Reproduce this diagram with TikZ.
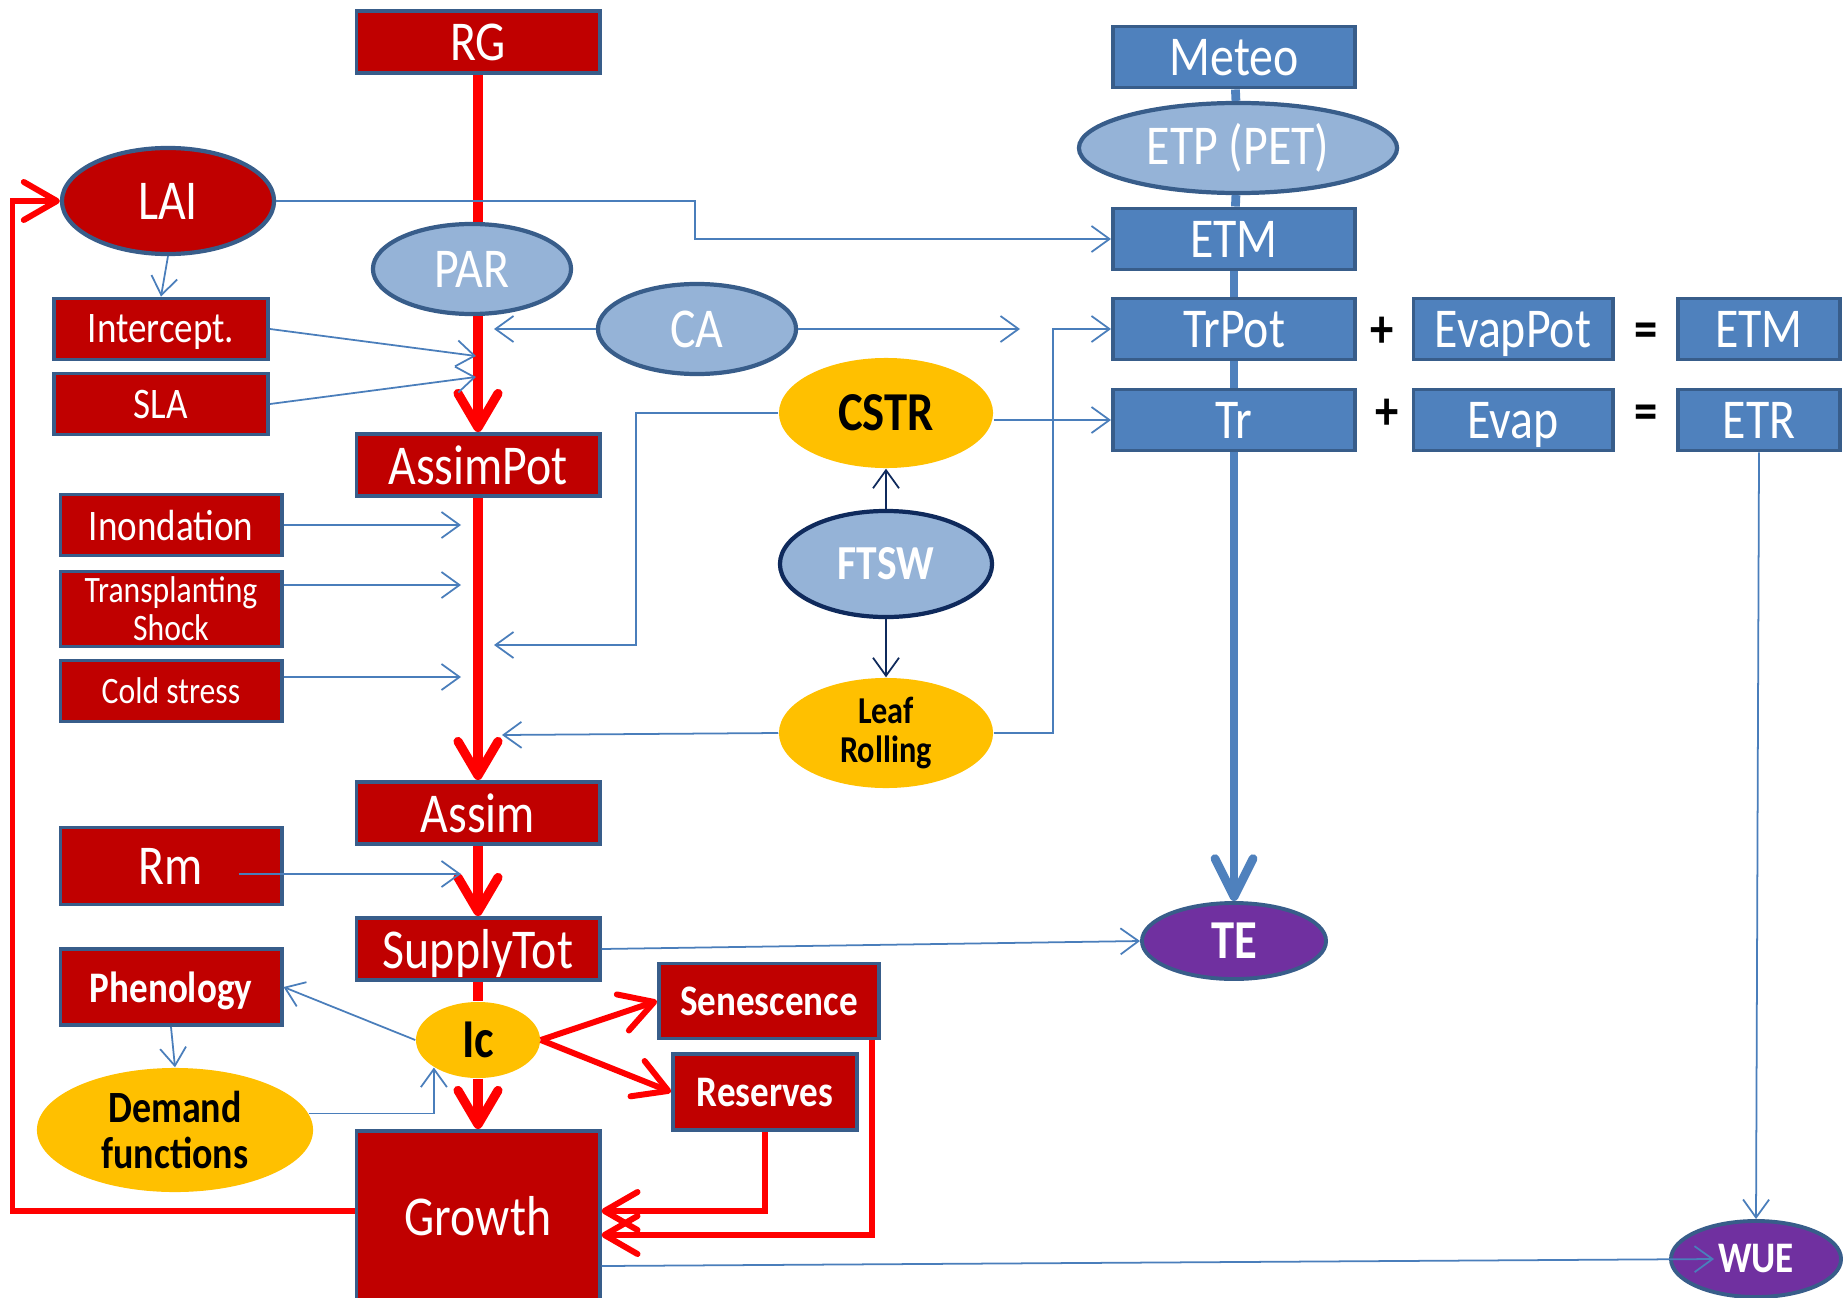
\documentclass[tikz,border=0pt]{standalone}
\usepackage{fontspec}
\setmainfont[FakeStretch=0.85]{Carlito}
\usepackage{tikz}
\usetikzlibrary{positioning, arrows.meta, shapes.geometric, calc}
\usepackage{xcolor}

\definecolor{boxred}{HTML}{C00000}
\definecolor{boxblue}{HTML}{4F81BD}
\definecolor{edgeblue}{HTML}{385D8A}
\definecolor{paleblue}{HTML}{95B3D7}
\definecolor{ovalyellow}{HTML}{FFC000}
\definecolor{ovalpurple}{HTML}{7030A0}
\definecolor{linkblue}{HTML}{4A7EBB}
\definecolor{navy}{HTML}{0F2A5C}

\newcommand{\sizebig}{\fontsize{16}{16.5}\selectfont}
\newcommand{\sizemid}{\fontsize{12.4}{13}\selectfont}
\newcommand{\sizesmall}{\fontsize{10.6}{10.8}\selectfont}
\newcommand{\sizehuge}{\fontsize{15.6}{16}\selectfont}

\begin{document}
\begin{tikzpicture}[x=0.01cm, y=-0.01cm, font=\sizebig,
    redbox/.style={rectangle, draw=edgeblue, line width=1.1pt, fill=boxred, text=white, inner sep=1pt, text depth=0pt},
    wide/.style={minimum width=2.43cm, minimum height=0.62cm},
    side/.style={redbox, minimum width=2.21cm, minimum height=0.61cm, font=\sizemid},
    bluebox/.style={rectangle, draw=edgeblue, line width=1.1pt, fill=boxblue, text=white, minimum height=0.61cm, inner sep=1pt, text depth=0pt},
    redoval/.style={ellipse, draw=edgeblue, line width=1.2pt, fill=boxred, text=white, inner sep=0pt},
    paleoval/.style={ellipse, draw=edgeblue, line width=1.2pt, fill=paleblue, text=white, inner sep=0pt},
    yellowoval/.style={ellipse, fill=ovalyellow, text=black, inner sep=0pt, align=center},
    purpleoval/.style={ellipse, draw=edgeblue, line width=1.1pt, fill=ovalpurple, text=white, inner sep=0pt},
    sign/.style={font=\sizehuge\bfseries, text=black, inner sep=0pt},
    flow/.style={draw=red, line width=1.7pt},
    flowarrow/.style={flow, -{Straight Barb[length=3.3mm, width=3.8mm, round]}},
    mainflow/.style={flow, line width=2.6pt},
    mainarrow/.style={mainflow, -{Straight Barb[length=3.4mm, width=4mm, round]}},
    water/.style={draw=boxblue, line width=2.5pt},
    link/.style={draw=linkblue, line width=0.5pt, -{Straight Barb[length=1.8mm, width=2.6mm]}},
    navylink/.style={link, draw=navy}]

  \fill[white] (0,0) rectangle (1843,1297);
  \useasboundingbox (0,0) rectangle (1843,1297);

  \node[redbox, wide]                       (rg)         at (478,42)    {RG};
  \node[bluebox, minimum width=2.42cm]      (meteo)      at (1234,57)   {Meteo};
  \node[paleoval, minimum width=3.18cm, minimum height=0.9cm] (etp) at (1238,148) {ETP (PET)};
  \node[bluebox, minimum width=2.42cm]      (etm)        at (1234,239)  {ETM};
  \node[bluebox, minimum width=2.42cm]      (trpot)      at (1234,329)  {TrPot};
  \node[bluebox, minimum width=1.99cm]      (evappot)    at (1513,329)  {EvapPot};
  \node[bluebox, minimum width=1.62cm]      (etmsum)     at (1759,329)  {ETM};
  \node[bluebox, minimum width=2.42cm]      (tr)         at (1234,420)  {Tr};
  \node[bluebox, minimum width=1.99cm]      (evap)       at (1513,420)  {Evap};
  \node[bluebox, minimum width=1.62cm]      (etr)        at (1759,420)  {ETR};
  \node[sign]                               (plus1)      at (1382,332)  {+};
  \node[sign]                               (eq1)        at (1646,335)  {=};
  \node[sign]                               (plus2)      at (1387,414)  {+};
  \node[sign]                               (eq2)        at (1646,417)  {=};

  \node[redoval, minimum width=2.12cm, minimum height=1.06cm] (lai) at (168,201) {LAI};
  \node[paleoval, minimum width=1.98cm, minimum height=0.9cm] (par) at (472,269) {PAR};
  \node[paleoval, minimum width=1.98cm, minimum height=0.9cm] (ca)  at (697,329) {CA};
  \node[redbox, minimum width=2.14cm, minimum height=0.61cm, font=\sizemid] (intercept) at (161,329) {Intercept.};
  \node[redbox, minimum width=2.14cm, minimum height=0.61cm, font=\sizemid] (sla)       at (161,404) {SLA};
  \node[redbox, wide]                       (assimpot)   at (478,465)   {AssimPot};

  \node[yellowoval, minimum width=2.14cm, minimum height=1.1cm, font=\sizehuge\bfseries] (cstr) at (886,413) {CSTR};
  \node[paleoval, draw=navy, minimum width=2.12cm, minimum height=1.06cm, font=\fontsize{13.9}{14}\selectfont\bfseries] (ftsw) at (886,564) {FTSW};
  \node[yellowoval, minimum width=2.14cm, minimum height=1.1cm, font=\fontsize{10.8}{11}\selectfont\bfseries] (rolling) at (886,733) {Leaf\\Rolling};

  \node[side]                               (inondation) at (171,525)   {Inondation};
  \node[side, minimum height=0.75cm, font=\sizesmall, align=center] (transplant) at (171,609) {Transplanting\\Shock};
  \node[side, font=\sizesmall]              (cold)       at (171,691)   {Cold stress};
  \node[redbox, wide]                       (assim)      at (478,813)   {Assim};
  \node[side, minimum height=0.77cm, font=\sizebig] (rm) at (171,866)   {Rm};
  \node[redbox, wide]                       (supply)     at (478,949)   {SupplyTot};
  \node[side, minimum height=0.76cm, font=\sizemid\bfseries] (phenology) at (171,987) {Phenology};
  \node[yellowoval, minimum width=1.24cm, minimum height=0.76cm, font=\sizehuge\bfseries] (ic) at (478,1040) {Ic};
  \node[redbox, minimum width=2.2cm, minimum height=0.75cm, font=\sizemid\bfseries]  (senescence) at (769,1001) {Senescence};
  \node[redbox, minimum width=1.84cm, minimum height=0.76cm, font=\sizemid\bfseries] (reserves)   at (765,1092) {Reserves};
  \node[yellowoval, minimum width=2.76cm, minimum height=1.24cm, font=\fontsize{12.7}{13}\selectfont\bfseries] (demand) at (175,1130) {Demand\\functions};
  \node[redbox, wide, minimum height=1.7cm] (growth)     at (478,1216)  {Growth};
  \node[purpleoval, minimum width=1.84cm, minimum height=0.76cm, font=\sizehuge\bfseries] (te)  at (1234,941)  {TE};
  \node[purpleoval, minimum width=1.7cm, minimum height=0.76cm, font=\sizemid\bfseries]   (wue) at (1756,1259) {WUE};

  \coordinate (interceptin) at (476,356);
  \coordinate (slain)       at (476,377);
  \coordinate (cain)        at (494,329);
  \coordinate (caout)       at (1020,329);
  \coordinate (cstrin)      at (494,645);
  \coordinate (rollin)      at (502,735);
  \coordinate (inondin)     at (461,525);
  \coordinate (transin)     at (461,585);
  \coordinate (coldin)      at (461,677);
  \coordinate (rmin)        at (461,874);

  \draw[mainflow]  (rg.south) -- (rg.south |- par.north);
  \draw[mainarrow] (rg.south |- par.south) -- (assimpot.north);
  \draw[mainarrow] (assimpot) -- (assim);
  \draw[mainarrow] (assim) -- (supply);
  \draw[mainflow]  (supply) -- (ic);
  \draw[mainarrow] (ic) -- (growth);
  \draw[flowarrow] (ic.east) -- (senescence.west);
  \draw[flowarrow] (ic.east) -- (reserves.west);
  \draw[flowarrow] (reserves.south) |- ($(growth.east)+(0,-5)$);
  \draw[flowarrow] ($(senescence.south east)+(-9,0)$) |- ($(growth.east)+(0,19)$);
  \draw[flowarrow] ($(growth.west)+(0,-5)$) -- ++(-342,0) |- (lai.west);

  \draw[water] (meteo) -- (etp);
  \draw[water] (etp) -- (etm);
  \draw[water] (etm) -- (trpot);
  \draw[water] (trpot) -- (tr);
  \draw[water, -{Straight Barb[length=3.8mm, width=3.8mm, round]}] (tr) -- (te);

  \draw[link] (lai.east) -- ++(419,0) |- (etm.west);
  \draw[link] (lai.south) -- (intercept.north);
  \draw[link] (intercept.east) -- (interceptin);
  \draw[link] (sla.east) -- (slain);
  \draw[link] (ca.west) -- (cain);
  \draw[link] (ca.east) -- (caout);
  \draw[link] (cstr.west) -- ++(-142,0) |- (cstrin);
  \draw[link] (cstr.east |- tr.west) -- (tr.west);
  \draw[navylink] (ftsw) -- (cstr);
  \draw[navylink] (ftsw) -- (rolling);
  \draw[link] (rolling.west) -- (rollin);
  \draw[link] (rolling.east) -- ++(59,0) |- (trpot.west);
  \draw[link] (inondation.east) -- (inondin);
  \draw[link] (transplant.east |- transin) -- (transin);
  \draw[link] (cold.east |- coldin) -- (coldin);
  \draw[link] ($(rm.east)+(-45,8)$) -- (rmin);
  \draw[link] (supply.east) -- (te.west);
  \draw[link] (ic.west) -- (phenology.east);
  \draw[link] (phenology.south) -- (demand.north);
  \draw[link] (demand.7) -| (ic.212);
  \draw[link] ($(growth.east)+(0,50)$) -- ($(wue.west)+(45,0)$);
  \draw[link] (etr.south) -- (wue.north);
\end{tikzpicture}
\end{document}
